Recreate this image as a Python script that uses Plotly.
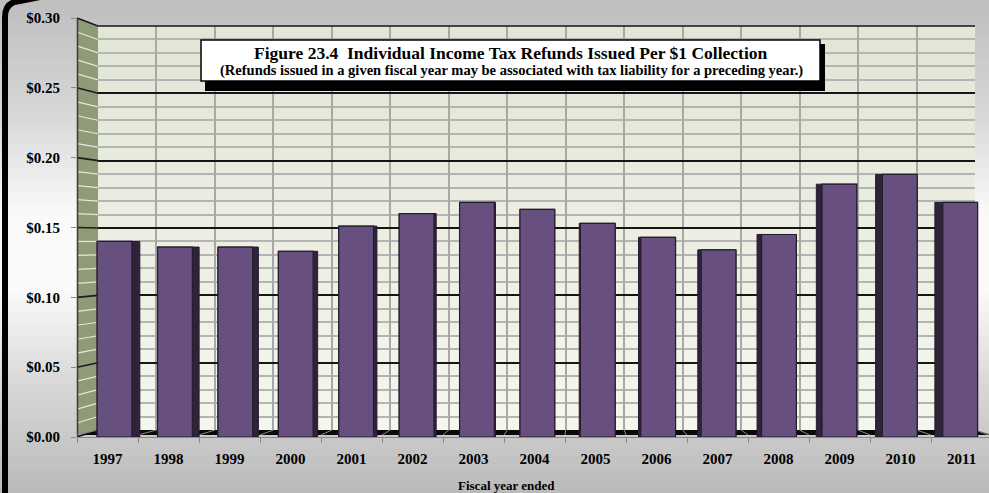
import plotly.graph_objects as go

# ---- data -------------------------------------------------------------
years = ["1997", "1998", "1999", "2000", "2001", "2002", "2003", "2004",
         "2005", "2006", "2007", "2008", "2009", "2010", "2011"]
refunds_per_dollar = [0.140, 0.136, 0.136, 0.133, 0.151, 0.160, 0.168, 0.163,
                      0.153, 0.143, 0.134, 0.145, 0.181, 0.188, 0.168]
y_ticks = [0.00, 0.05, 0.10, 0.15, 0.20, 0.25, 0.30]
title_main = "Figure 23.4\u00a0 Individual Income Tax Refunds Issued Per $1 Collection"
title_sub = ("(Refunds issued in a given fiscal year may be associated with "
             "tax liability for a preceding year.)")
x_title = "Fiscal year ended"

# ---- geometry helpers (pixel -> paper) --------------------------------
W, H = 989, 493
L, R, T, B = 77, 989, 18, 437          # front plot area
WALL_L, WALL_R, WALL_T, WALL_B = 98, 975, 26, 430   # back wall


def px(x):
    return (x - L) / (R - L)


def py(y):
    return (B - y) / (B - T)


FONT = "Liberation Serif"
PURPLE = "#67507f"
PURPLE_SIDE = "#2f2339"
EDGE = "#261c2e"

n = len(years)
mid = (n - 1) / 2
face_w = 0.57
shift = [0.115 - 0.0098 * k for k in range(n)]
side = [0.13 * abs(k - mid) / mid for k in range(n)]
face_off = [-face_w / 2 + shift[k] for k in range(n)]
side_off = [face_off[k] - (side[k] if k > mid else 0) for k in range(n)]
side_w = [face_w + side[k] for k in range(n)]

fig = go.Figure()

# anchor trace so the back-wall subplot is laid out and gridded
fig.add_trace(go.Scatter(
    x=[0, 15], y=[0, 0.30], xaxis="x", yaxis="y", mode="markers",
    marker=dict(opacity=0, size=1), hoverinfo="skip", showlegend=False,
))
# column depth faces
fig.add_trace(go.Bar(
    x=years, y=refunds_per_dollar, xaxis="x2", yaxis="y2",
    width=side_w, offset=side_off,
    marker=dict(color=PURPLE_SIDE, line=dict(color=EDGE, width=1)),
    hoverinfo="skip", showlegend=False,
))
# column front faces
fig.add_trace(go.Bar(
    x=years, y=refunds_per_dollar, xaxis="x2", yaxis="y2",
    width=face_w, offset=face_off,
    marker=dict(color=PURPLE, line=dict(color=EDGE, width=1.2)),
    hovertemplate="%{x}: $%{y:.3f}<extra></extra>", showlegend=False,
))

shapes = []


def lerp(a, b, t):
    return a + (b - a) * t


# page background: vertical grey-white-grey gradient
stops = [(0, 190), (110, 214), (215, 250), (290, 250), (390, 214), (493, 186)]


def grey_at(y):
    for (y0, g0), (y1, g1) in zip(stops, stops[1:]):
        if y0 <= y <= y1:
            return lerp(g0, g1, (y - y0) / (y1 - y0))
    return stops[-1][1]


step = 6
for y in range(0, H, step):
    g = int(round(grey_at(y + step / 2)))
    shapes.append(dict(type="rect", xref="paper", yref="paper", layer="below",
                       x0=px(-2), x1=px(W + 2), y0=py(y), y1=py(y + step + 1),
                       line=dict(width=0), fillcolor=f"rgb({g},{g},{g})"))

# back wall: light green gradient
nst = 24
for i in range(nst):
    t = i / (nst - 1)
    r = int(lerp(226, 245, t)); g_ = int(lerp(230, 247, t)); b = int(lerp(213, 236, t))
    y_top = WALL_T + i * (WALL_B - WALL_T) / nst
    y_bot = WALL_T + (i + 1) * (WALL_B - WALL_T) / nst + 1
    shapes.append(dict(type="rect", xref="paper", yref="paper", layer="below",
                       x0=px(WALL_L), x1=px(WALL_R), y0=py(min(y_bot, WALL_B)), y1=py(y_top),
                       line=dict(width=0), fillcolor=f"rgb({r},{g_},{b})"))

# top edge of the back wall
shapes.append(dict(type="line", xref="paper", yref="paper", layer="above",
                   x0=px(WALL_L), x1=px(WALL_R), y0=py(WALL_T), y1=py(WALL_T),
                   line=dict(color="#161616", width=1.6)))

# left side wall
wall_path = (f"M {px(77)},{py(18)} L {px(98)},{py(WALL_T)} "
             f"L {px(98)},{py(WALL_B)} L {px(77)},{py(436)} Z")
shapes.append(dict(type="path", xref="paper", yref="paper", layer="below",
                   path=wall_path, fillcolor="#8e9a78", line=dict(width=0)))
for i in range(31):
    v = i * 0.01
    yf = B - v / 0.30 * (B - T)
    yb = WALL_B - v / 0.30 * (WALL_B - WALL_T)
    major = i % 5 == 0
    shapes.append(dict(type="line", xref="paper", yref="paper", layer="below",
                       x0=px(77), y0=py(yf), x1=px(98), y1=py(yb),
                       line=dict(color="#1c1c1c" if major else "#e4e8d6",
                                 width=1.6 if major else 1.2)))
shapes.append(dict(type="line", xref="paper", yref="paper", layer="below",
                   x0=px(77.5), y0=py(18), x1=px(77.5), y1=py(436),
                   line=dict(color="#3a3a3a", width=1.5)))

# floor
floor_path = (f"M {px(77)},{py(436)} L {px(98)},{py(WALL_B)} "
              f"L {px(975)},{py(WALL_B)} L {px(989)},{py(434)} L {px(989)},{py(435)} "
              f"L {px(77)},{py(435)} Z")
shapes.append(dict(type="path", xref="paper", yref="paper", layer="below",
                   path=floor_path, fillcolor="#0a0a0a", line=dict(width=0)))
for k in range(16):
    xb = WALL_L + k * (WALL_R - WALL_L) / 15
    xf = L + k * 61.0
    shapes.append(dict(type="line", xref="paper", yref="paper", layer="below",
                       x0=px(xb), y0=py(WALL_B), x1=px(min(xf, 989)), y1=py(435),
                       line=dict(color="#8a8a8a", width=1)))

# title box with drop shadow
shapes.append(dict(type="rect", xref="paper", yref="paper", layer="above",
                   x0=px(205), x1=px(825), y0=py(91), y1=py(44),
                   fillcolor="#000000", line=dict(width=0)))
shapes.append(dict(type="rect", xref="paper", yref="paper", layer="above",
                   x0=px(201), x1=px(820), y0=py(81), y1=py(40),
                   fillcolor="#ffffff", line=dict(color="#000000", width=1.5)))

# rounded black frame on the left edge
frame_path = (f"M {px(5)},{py(500)} L {px(5)},{py(17)} "
              f"Q {px(5)},{py(2)} {px(20)},{py(1)} L {px(40)},{py(-3)}")
shapes.append(dict(type="path", xref="paper", yref="paper", layer="above",
                   path=frame_path, line=dict(color="#000000", width=6)))

annotations = [
    dict(xref="paper", yref="paper", x=px(511), y=py(53), showarrow=False,
         text=f"<b>{title_main}</b>", xanchor="center", yanchor="middle",
         font=dict(family=FONT, size=17.5, color="black")),
    dict(xref="paper", yref="paper", x=px(511), y=py(70), showarrow=False,
         text=f"<b>{title_sub}</b>", xanchor="center", yanchor="middle",
         font=dict(family=FONT, size=14.5, color="black")),
    dict(xref="paper", yref="paper", x=px(506), y=py(485), showarrow=False,
         text=f"<b>{x_title}</b>", xanchor="center", yanchor="middle",
         font=dict(family=FONT, size=13, color="black")),
]

fig.update_layout(
    width=W, height=H,
    margin=dict(l=L, r=W - R, t=T, b=H - B, pad=0),
    paper_bgcolor="#c8c8c8",
    plot_bgcolor="rgba(0,0,0,0)",
    barmode="overlay",
    showlegend=False,
    shapes=shapes,
    annotations=annotations,
    # back wall grid
    xaxis=dict(domain=[px(WALL_L), px(WALL_R)], anchor="y", range=[0, 15],
               tick0=0, dtick=1, showgrid=True, gridcolor="#a8a8a8", gridwidth=2,
               showticklabels=False, ticks="", zeroline=False, showline=False,
               fixedrange=True),
    yaxis=dict(domain=[py(WALL_B), py(WALL_T)], anchor="x", range=[0, 0.30],
               tick0=0, dtick=0.05, showgrid=True, gridcolor="#161616", gridwidth=1.6,
               minor=dict(dtick=0.01, showgrid=True, gridcolor="#b4b4b4", gridwidth=1.5),
               showticklabels=False, ticks="", zeroline=False, showline=False,
               fixedrange=True),
    # front axes carrying the columns
    xaxis2=dict(domain=[0, 1], anchor="y2", type="category",
                range=[-0.5, 14.45], tickson="boundaries",
                ticks="outside", ticklen=5, tickcolor="#8a8a8a", tickwidth=1,
                showline=True, linecolor="#8a8a8a", linewidth=1,
                showgrid=False, zeroline=False, ticklabelstandoff=8,
                tickfont=dict(family=FONT, size=15, color="black", weight="bold"),
                fixedrange=True),
    yaxis2=dict(domain=[0, 1], anchor="x2", range=[0, 0.30],
                tickmode="array", tickvals=y_ticks, tickformat="$.2f",
                ticks="outside", ticklen=5, tickcolor="#8a8a8a", tickwidth=1,
                showline=False, showgrid=False, zeroline=False,
                ticklabelstandoff=8,
                tickfont=dict(family=FONT, size=15, color="black", weight="bold"),
                fixedrange=True),
)

fig.write_html("out.html")
